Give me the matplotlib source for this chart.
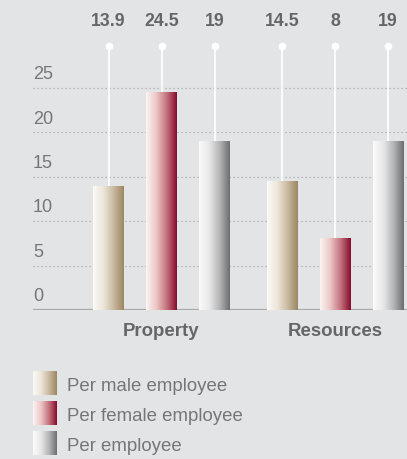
import numpy as np
import matplotlib
matplotlib.use("Agg")
import matplotlib.pyplot as plt
from matplotlib.colors import LinearSegmentedColormap
import matplotlib.transforms as mtransforms

categories = ["Property", "Resources"]
series_names = ["Per male employee", "Per female employee", "Per employee"]
male = [13.9, 14.5]
female = [24.5, 8]
overall = [19, 19]
value_labels = [["13.9", "24.5", "19"], ["14.5", "8", "19"]]
yticks = [0, 5, 10, 15, 20, 25]

BG = "#e3e4e6"
BOLD = "#666668"
FONT = "Liberation Sans"

cmaps = [
    LinearSegmentedColormap.from_list("m", ["#fbfaf7", "#ede6da", "#c9b9a0", "#9b8661"]),
    LinearSegmentedColormap.from_list("f", ["#fdf4f4", "#ecc6c6", "#c4737e", "#870a2c"]),
    LinearSegmentedColormap.from_list("g", ["#fbfbfb", "#e8e8e9", "#b4b5b7", "#6c6d70"]),
]

W, H = 407, 460
fig = plt.figure(figsize=(W / 100, H / 100), dpi=100, facecolor=BG)

base_px = 311
unit_px = 44.4 / 5
ax = fig.add_axes([33 / W, (H - base_px) / H, 1 - 33 / W, base_px / H])
ax.set_facecolor(BG)
group_px = 173.5
for s in ax.spines.values():
    s.set_visible(False)
ax.set_xticks([])
ax.set_yticks([])

# grid lines and y labels
for t in yticks:
    if t == 0:
        ax.axhline(0, color="#a9aaac", lw=1.6, zorder=1)
    else:
        ax.axhline(t, color="#a6a7a9", lw=0.9, ls=(0, (1, 2.2)), zorder=1)
    ax.text(0.0, t + 1.6, str(t), transform=mtransforms.blended_transform_factory(ax.transAxes, ax.transData),
            ha="left", va="center", fontsize=13, color="#767678", family=FONT)

grad = np.linspace(0, 1, 256).reshape(1, -1)
bw = 31 / group_px
off = 53 / group_px
dot_y = (base_px - 47) / unit_px
lab_y = (base_px - 22) / unit_px
series = [male, female, overall]
for gi, cat in enumerate(categories):
    for si, vals in enumerate(series):
        xc = gi + (si - 1) * off
        v = vals[gi]
        ax.plot([xc, xc], [v, dot_y], color="white", lw=1.2, zorder=2, solid_capstyle="butt")
        ax.plot([xc], [dot_y], marker="o", ms=4.5, color="white", mec="white", zorder=3, clip_on=False)
        ax.imshow(grad, cmap=cmaps[si], extent=[xc - bw / 2, xc + bw / 2, 0, v], aspect="auto",
                  zorder=4, interpolation="bilinear")
        ax.text(xc, lab_y, value_labels[gi][si], ha="center", va="center", fontsize=12.8,
                fontweight="bold", color=BOLD, family=FONT, clip_on=False)
    ax.text(gi, -(332 - base_px) / unit_px, cat, ha="center", va="center", fontsize=13.4,
            fontweight="bold", color=BOLD, family=FONT, clip_on=False)
ax.set_xlim(-(161.5 - 33) / group_px, 1 + (407 - 335) / group_px)
ax.set_ylim(0, base_px / unit_px)

# legend
for i, name in enumerate(series_names):
    top = 372 + i * 30
    lax = fig.add_axes([33 / W, (H - top - 24) / H, 24 / W, 24 / H])
    lax.imshow(grad, cmap=cmaps[i], aspect="auto", interpolation="bilinear")
    lax.axis("off")
    fig.text(67 / W, (H - top - 15) / H, name, ha="left", va="center", fontsize=13.4,
             color="#767678", family=FONT)

fig.savefig("out.png", dpi=100, facecolor=BG)
